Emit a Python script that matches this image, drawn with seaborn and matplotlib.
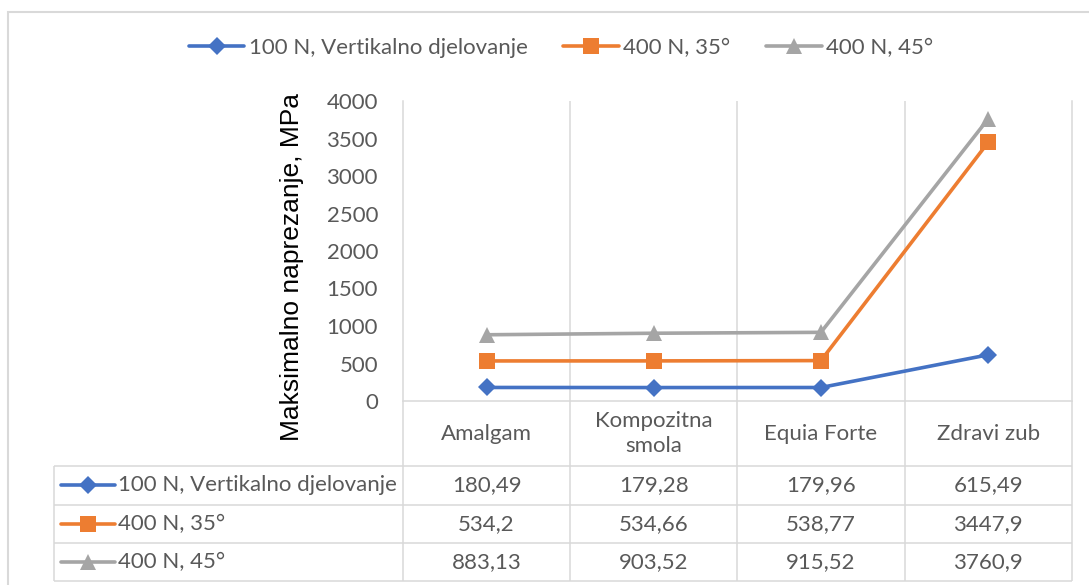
import numpy as np
import pandas as pd
import matplotlib
matplotlib.use("Agg")
import matplotlib.pyplot as plt
from matplotlib.lines import Line2D
from matplotlib.patches import Rectangle
import seaborn as sns

categories = ["Amalgam", "Kompozitna\nsmola", "Equia Forte", "Zdravi zub"]
series_names = ["100 N, Vertikalno djelovanje", "400 N, 35°", "400 N, 45°"]
vals_100_vert = [180.49, 179.28, 179.96, 615.49]
vals_400_35 = [534.2, 534.66, 538.77, 3447.9]
vals_400_45 = [883.13, 903.52, 915.52, 3760.9]
y_ticks = [0, 500, 1000, 1500, 2000, 2500, 3000, 3500, 4000]
y_label = "Maksimalno naprezanje, MPa"

colors = ["#4472C4", "#ED7D31", "#A5A5A5"]
markers = ["D", "s", "^"]
msizes = [9, 12, 12]
grid_c = "#D9D9D9"
text_c = "#595959"

sns.set_style("white")
plt.rcParams["font.family"] = ["Lato", "DejaVu Sans"]
FS = 16

W, H = 1089, 585
fig = plt.figure(figsize=(W / 100, H / 100), dpi=100)

# plot area in pixels
x0, x1, y_top, y_bot = 403, 1071.7, 101, 401
ax = fig.add_axes([x0 / W, 1 - y_bot / H, (x1 - x0) / W, (y_bot - y_top) / H])

df = pd.DataFrame({
    "category": categories * 3,
    "value": vals_100_vert + vals_400_35 + vals_400_45,
    "series": [s for s in series_names for _ in categories],
})
for name, c, m, ms in zip(series_names, colors, markers, msizes):
    sub = df[df["series"] == name]
    sns.lineplot(data=sub, x="category", y="value", ax=ax, color=c, lw=2.6,
                 marker=m, markersize=ms, markeredgewidth=0, label=name,
                 sort=False)

ax.set_xlim(-0.5, len(categories) - 0.5)
ax.set_ylim(0, 4000)
ax.set_yticks(y_ticks)
ax.set_yticklabels([str(t) for t in y_ticks], fontsize=FS, color=text_c)
ax.tick_params(axis="y", length=0, pad=18)
ax.set_xticks([])
ax.set_xlabel("")
ax.set_ylabel("")
for k in np.arange(0.5, len(categories) - 1, 1.0):
    ax.axvline(k, color=grid_c, lw=1.1, zorder=0)
for s in ["left", "right", "bottom"]:
    ax.spines[s].set_color(grid_c)
    ax.spines[s].set_linewidth(1.1)
ax.spines["top"].set_visible(False)

handles, labels = ax.get_legend_handles_labels()
ax.get_legend().remove()
fig.legend(handles, labels, loc="center", bbox_to_anchor=(561 / W, 1 - 48 / H),
           ncol=3, frameon=False, fontsize=FS, labelcolor=text_c,
           handlelength=2.5, handletextpad=0.2, columnspacing=1.6)

fig.text(292 / W, 1 - 267 / H, y_label, rotation=90, ha="center", va="center",
         fontsize=19, family=["Liberation Sans", "DejaVu Sans"], color="black")

# data table under the plot
ppc = (x1 - x0) / len(categories)


def px2cat(px):
    return -0.5 + (px - x0) / ppc


t_left = 54
t_bot = 581
tax = fig.add_axes([t_left / W, 1 - t_bot / H, (x1 - t_left) / W, (t_bot - y_bot) / H])
tax.set_xlim(px2cat(t_left), len(categories) - 0.5)
tax.set_ylim(t_bot - y_bot, 0)
tax.axis("off")

rows = [0, 65, 103.5, 142, 180]
lkw = dict(color=grid_c, lw=1.1, clip_on=False)
tax.hlines(rows[1:], px2cat(t_left), len(categories) - 0.5, **lkw)
tax.vlines(np.arange(-0.5, len(categories), 1.0), 0, rows[-1], **lkw)
tax.vlines(px2cat(t_left), rows[1], rows[-1], **lkw)

for i, cat in enumerate(categories):
    tax.text(i, (rows[0] + rows[1]) / 2, cat, ha="center", va="center",
             fontsize=FS, color=text_c, linespacing=1.35)

all_vals = [vals_100_vert, vals_400_35, vals_400_45]
for r, (name, vals, c, m, ms) in enumerate(zip(series_names, all_vals, colors, markers, msizes)):
    yc = (rows[r + 1] + rows[r + 2]) / 2
    tax.add_line(Line2D([px2cat(61), px2cat(115)], [yc, yc], color=c, lw=2.6, clip_on=False))
    tax.add_line(Line2D([px2cat(88)], [yc], color=c, marker=m, markersize=ms,
                        markeredgewidth=0, clip_on=False))
    tax.text(px2cat(118), yc, name, ha="left", va="center", fontsize=FS, color=text_c)
    for i, v in enumerate(vals):
        tax.text(i, yc, f"{v:g}".replace(".", ","), ha="center", va="center",
                 fontsize=FS, color=text_c)

# chart border
fig.patches.append(Rectangle((8 / W, -0.05), 1.1, 1.05 - 12 / H, transform=fig.transFigure,
                             fill=False, edgecolor=grid_c, lw=1.5))

fig.savefig("out.png", dpi=100, facecolor="white")
